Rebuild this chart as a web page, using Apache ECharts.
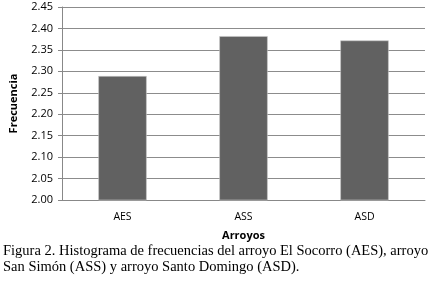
<!DOCTYPE html>
<html><head><meta charset="utf-8">
<script src="https://cdn.jsdelivr.net/npm/echarts@6/dist/echarts.min.js"></script>
<style>html,body{margin:0;padding:0;background:#fff;}#c{width:435px;height:287px;}</style>
</head><body><div id="c"></div>
<script>
const categories = ["AES", "ASS", "ASD"];
const frecuencia = [2.289, 2.382, 2.372];
const yTicks = ["2.00","2.05","2.10","2.15","2.20","2.25","2.30","2.35","2.40","2.45"];
const captionLines = [
  "Figura 2. Histograma de frecuencias del arroyo El Socorro (AES), arroyo",
  "San Simón (ASS) y arroyo Santo Domingo (ASD)."
];
const chart = echarts.init(document.getElementById('c'));
chart.setOption({
  animation: false,
  grid: {left: 54, right: 10, top: 7, bottom: 87},
  xAxis: {
    type: 'category', data: categories,
    name: 'Arroyos', nameLocation: 'middle', nameGap: 30,
    nameTextStyle: {fontFamily: 'Open Sans', fontSize: 11, fontWeight: 'bold', color: '#000'},
    axisLine: {lineStyle: {color: '#888', width: 1}},
    axisTick: {show: false},
    axisLabel: {fontFamily: 'Open Sans', fontSize: 10.5, color: '#000', margin: 12}
  },
  yAxis: {
    type: 'value', min: 2.0, max: 2.45, interval: 0.05,
    name: 'Frecuencia', nameLocation: 'middle', nameGap: 43, nameRotate: 90,
    nameTextStyle: {fontFamily: 'Open Sans', fontSize: 11, fontWeight: 'bold', color: '#000'},
    axisLine: {show: true, lineStyle: {color: '#888', width: 1}},
    axisTick: {show: true, length: 4, inside: false, lineStyle: {color: '#888'}},
    axisLabel: {fontFamily: 'Open Sans', fontSize: 11, color: '#000', margin: 9,
      formatter: v => yTicks[Math.round((v - 2.0) / 0.05)] || v.toFixed(2)},
    splitLine: {lineStyle: {color: '#8c8c8c', width: 1}}
  },
  series: [{
    type: 'bar', data: frecuencia, barWidth: '40%',
    itemStyle: {color: '#616161', borderColor: '#c8c8c8', borderWidth: 0.6}
  }],
  graphic: captionLines.map((t, i) => ({
    type: 'text', left: 3, top: 244 + i * 16,
    style: {text: t, font: '14.5px "Liberation Serif"', fill: '#000'}
  }))
});
</script></body></html>
